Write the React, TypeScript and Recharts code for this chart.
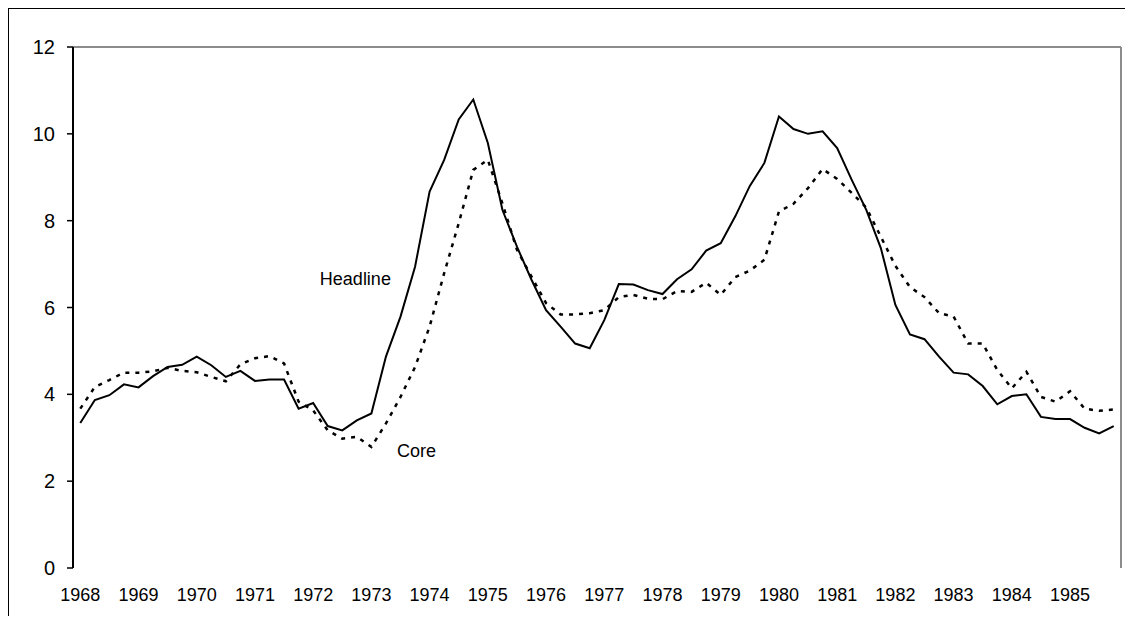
import React from "react";
import {
  LineChart,
  Line,
  XAxis,
  YAxis,
  ReferenceLine,
  ReferenceDot,
} from "recharts";

const YEARS = [
  "1968", "1969", "1970", "1971", "1972", "1973", "1974", "1975", "1976",
  "1977", "1978", "1979", "1980", "1981", "1982", "1983", "1984", "1985",
];

const HEADLINE = [
  3.34, 3.87, 3.98, 4.23, 4.16, 4.42, 4.63, 4.68, 4.87, 4.67, 4.4, 4.54,
  4.31, 4.34, 4.34, 3.67, 3.8, 3.27, 3.17, 3.4, 3.56, 4.87, 5.79, 6.94,
  8.67, 9.4, 10.33, 10.79, 9.79, 8.25, 7.4, 6.64, 5.94, 5.56, 5.17, 5.06,
  5.71, 6.54, 6.53, 6.4, 6.31, 6.65, 6.88, 7.31, 7.48, 8.1, 8.8, 9.33,
  10.4, 10.11, 10.0, 10.06, 9.67, 8.94, 8.25, 7.37, 6.06, 5.38, 5.27, 4.87,
  4.5, 4.46, 4.19, 3.77, 3.96, 4.0, 3.48, 3.43, 3.43, 3.23, 3.1, 3.27,
];

const CORE = [
  3.67, 4.17, 4.33, 4.5, 4.5, 4.53, 4.61, 4.54, 4.51, 4.4, 4.3, 4.69,
  4.83, 4.88, 4.71, 3.83, 3.63, 3.17, 2.98, 3.02, 2.79, 3.33, 3.94, 4.63,
  5.56, 6.79, 7.94, 9.17, 9.4, 8.4, 7.33, 6.71, 6.1, 5.84, 5.84, 5.87,
  5.94, 6.24, 6.29, 6.2, 6.19, 6.38, 6.36, 6.57, 6.29, 6.7, 6.85, 7.1,
  8.21, 8.39, 8.75, 9.19, 8.96, 8.64, 8.3, 7.63, 6.96, 6.47, 6.24, 5.87,
  5.79, 5.17, 5.17, 4.56, 4.14, 4.52, 3.94, 3.83, 4.07, 3.67, 3.62, 3.65,
];

const Y_TICKS = [0, 2, 4, 6, 8, 10, 12];

const ANNOTATIONS = [
  { text: "Headline", idx: 18.9, value: 6.67 },
  { text: "Core", idx: 23.1, value: 2.71 },
];

const FONT = "Arial, 'Liberation Sans', sans-serif";
const QPY = 4;

const data = HEADLINE.map((h, i) => ({ idx: i, headline: h, core: CORE[i] }));
const nCat = HEADLINE.length;
const domain: [number, number] = [-0.5, nCat - 0.5];
const boundaryTicks = YEARS.map((_, k) => k * QPY - 0.5).concat([nCat - 0.5]);
const labelTicks = YEARS.map((_, k) => k * QPY);

export default function App() {
  return (
    <div
      style={{
        width: 1116,
        height: 607,
        borderLeft: "1px solid #000",
        borderTop: "1px solid #000",
        overflow: "hidden",
        background: "#fff",
      }}
    >
      <LineChart
        width={1116}
        height={607}
        data={data}
        margin={{ top: 38, right: 4, left: 0, bottom: 0 }}
      >
        <XAxis
          xAxisId="ticks"
          dataKey="idx"
          type="number"
          domain={domain}
          ticks={boundaryTicks}
          tickFormatter={() => ""}
          tickSize={6}
          height={0}
          axisLine={{ stroke: "#000", strokeWidth: 2 }}
          tickLine={{ stroke: "#000", strokeWidth: 1.5 }}
          allowDataOverflow
        />
        <XAxis
          xAxisId="labels"
          dataKey="idx"
          type="number"
          domain={domain}
          ticks={labelTicks}
          tickFormatter={(v: number) => YEARS[Math.round(v / QPY)]}
          axisLine={false}
          tickLine={false}
          tickSize={6}
          tickMargin={14}
          height={48}
          interval={0}
          tick={{ fontSize: 18, fill: "#000", fontFamily: FONT }}
          allowDataOverflow
        />
        <YAxis
          type="number"
          domain={[0, 12]}
          ticks={Y_TICKS}
          width={64}
          tickSize={6}
          tickMargin={12}
          interval={0}
          axisLine={{ stroke: "#000", strokeWidth: 2 }}
          tickLine={{ stroke: "#000", strokeWidth: 1.5 }}
          tick={{ fontSize: 20, fill: "#000", fontFamily: FONT }}
        />
        <ReferenceLine
          xAxisId="ticks"
          y={12}
          stroke="#8c8c8c"
          strokeWidth={2}
        />
        <ReferenceLine
          xAxisId="ticks"
          x={nCat - 0.5}
          stroke="#8c8c8c"
          strokeWidth={2}
        />
        <Line
          xAxisId="ticks"
          type="linear"
          dataKey="core"
          stroke="#000"
          strokeWidth={2.5}
          strokeDasharray="4 6"
          dot={false}
          activeDot={false}
          isAnimationActive={false}
        />
        <Line
          xAxisId="ticks"
          type="linear"
          dataKey="headline"
          stroke="#000"
          strokeWidth={2}
          dot={false}
          activeDot={false}
          isAnimationActive={false}
        />
        {ANNOTATIONS.map((a) => (
          <ReferenceDot
            key={a.text}
            xAxisId="ticks"
            x={a.idx}
            y={a.value}
            r={0}
            fill="none"
            stroke="none"
            label={{
              value: a.text,
              position: "center",
              fontSize: 18,
              fill: "#000",
              fontFamily: FONT,
            }}
          />
        ))}
      </LineChart>
    </div>
  );
}
